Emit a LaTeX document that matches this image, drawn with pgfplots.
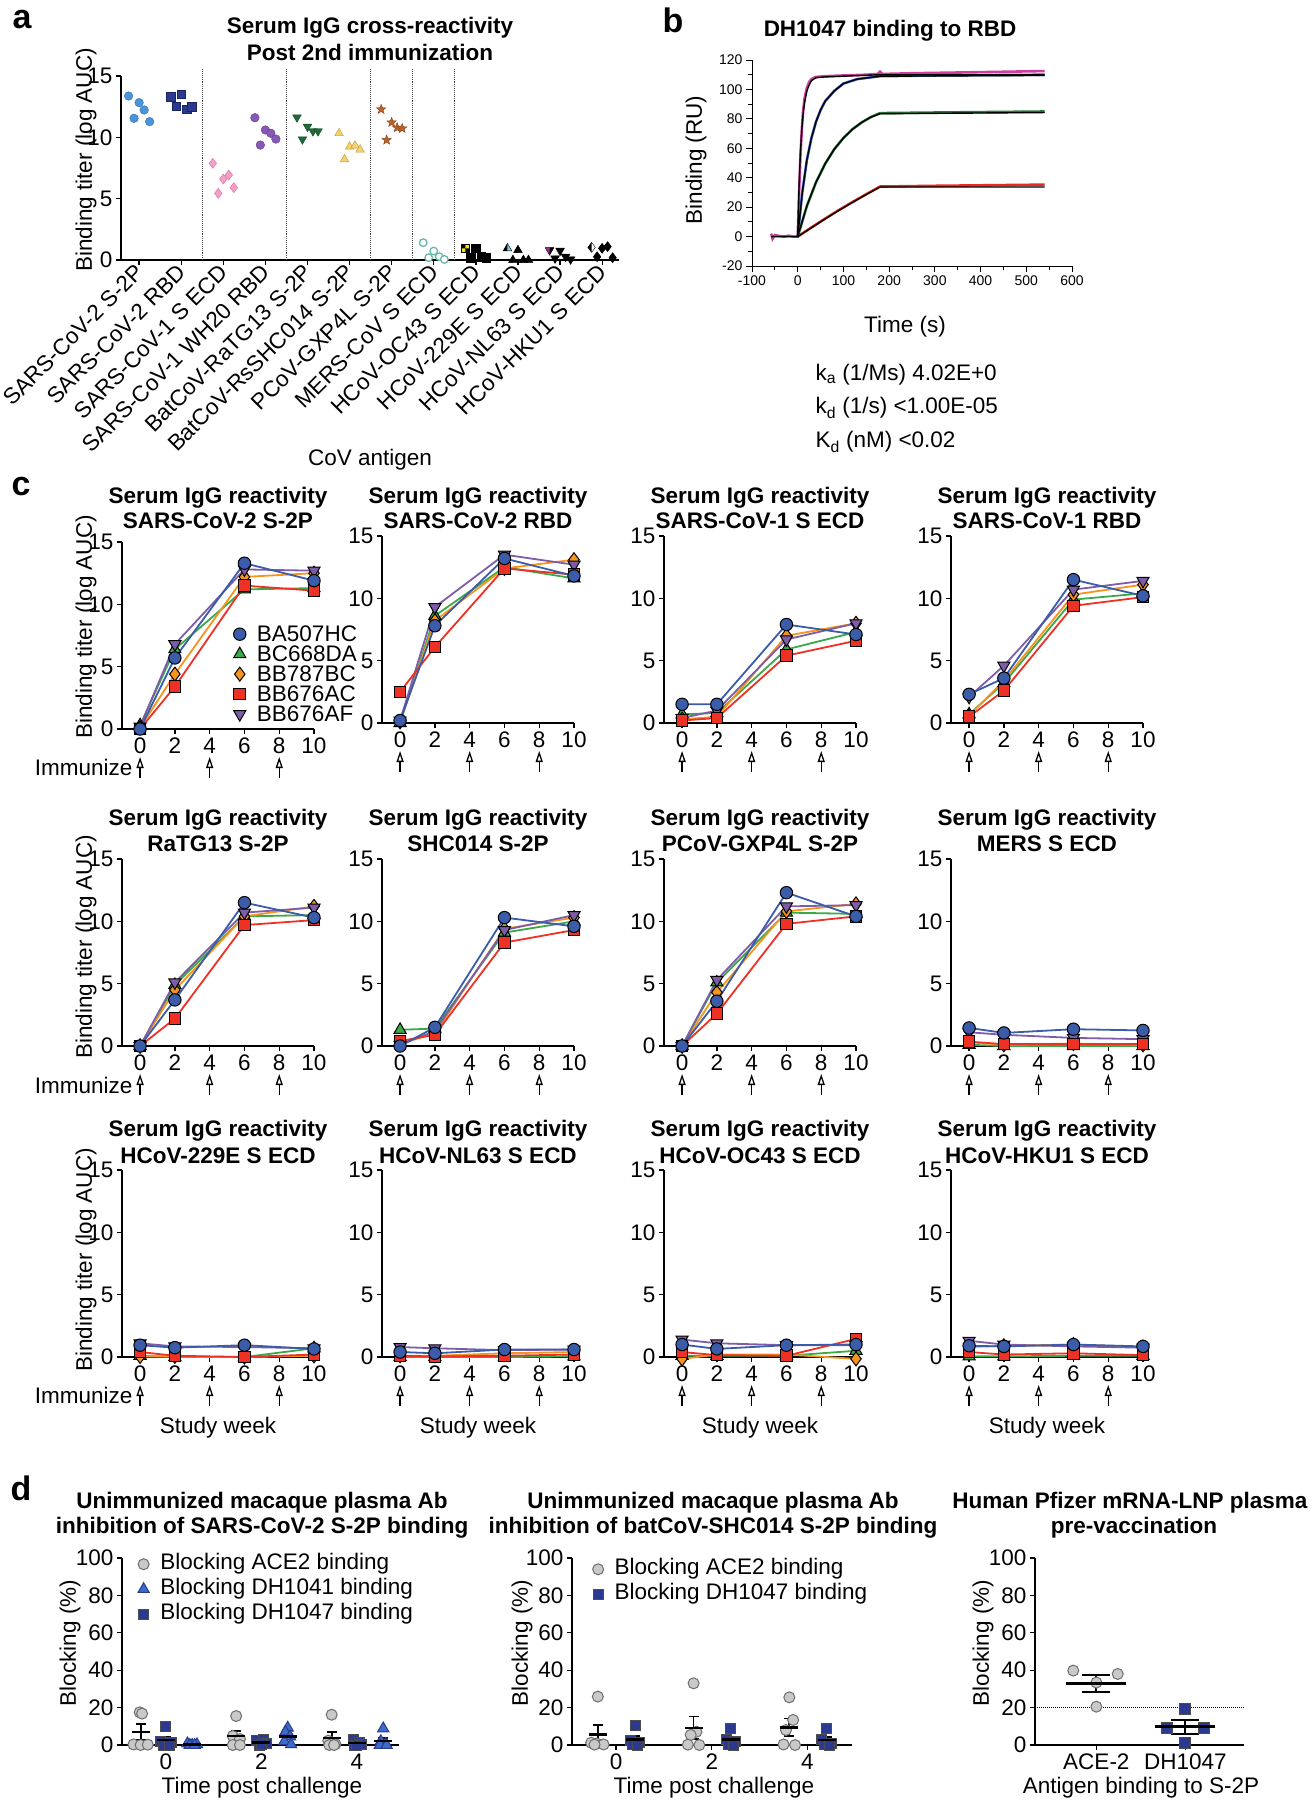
\documentclass[border=0pt]{standalone}
\usepackage{fontspec}
\setmainfont{Liberation Sans}
\usepackage{pgfplots}
\pgfplotsset{compat=1.18}
\usetikzlibrary{arrows.meta,plotmarks}

\newcommand\FT{\fontsize{22.5}{26}\selectfont}
\newcommand\FB{\fontsize{22.5}{26}\selectfont\bfseries}
\newcommand\FS{\fontsize{14}{16}\selectfont}
\newcommand\FL{\fontsize{34}{38}\selectfont\bfseries}

\definecolor{cBlue}{HTML}{3B5CA8}
\definecolor{cGreen}{HTML}{3AAA48}
\definecolor{cOrange}{HTML}{F7941D}
\definecolor{cRed}{HTML}{EE3124}
\definecolor{cPurple}{HTML}{7E5DA8}
\definecolor{dGray}{HTML}{C9C9C9}
\definecolor{dGrayE}{HTML}{6E6E6E}
\definecolor{dTri}{HTML}{3A6DC6}
\definecolor{dSq}{HTML}{2B3990}
\definecolor{bMag}{HTML}{CC3FA0}
\definecolor{bBlue}{HTML}{3D5CC8}
\definecolor{bGreen}{HTML}{2B7A3C}
\definecolor{bRed}{HTML}{E82A22}
\definecolor{a0f}{HTML}{4A94D8}\definecolor{a0d}{HTML}{2F6EAD}
\definecolor{a1f}{HTML}{2A3A8E}\definecolor{a1d}{HTML}{1A2560}
\definecolor{a2f}{HTML}{F4A0C8}\definecolor{a2d}{HTML}{D7699F}
\definecolor{a3f}{HTML}{8559B5}\definecolor{a3d}{HTML}{5E3C8C}
\definecolor{a4f}{HTML}{1E6B38}\definecolor{a4d}{HTML}{124524}
\definecolor{a5f}{HTML}{F5D26A}\definecolor{a5d}{HTML}{B89A3C}
\definecolor{a6f}{HTML}{B8632A}\definecolor{a6d}{HTML}{8A4418}
\definecolor{a7d}{HTML}{6BB7A8}
\definecolor{a8f}{HTML}{F2E311}
\definecolor{a9f}{HTML}{8AD0E5}
\definecolor{a10f}{HTML}{9E2F8F}

\pgfdeclareplotmark{fstar}{%
  \pgfpathmoveto{\pgfpointpolar{90}{\pgfplotmarksize}}%
  \pgfpathlineto{\pgfpointpolar{126}{0.42\pgfplotmarksize}}%
  \pgfpathlineto{\pgfpointpolar{162}{\pgfplotmarksize}}%
  \pgfpathlineto{\pgfpointpolar{198}{0.42\pgfplotmarksize}}%
  \pgfpathlineto{\pgfpointpolar{234}{\pgfplotmarksize}}%
  \pgfpathlineto{\pgfpointpolar{270}{0.42\pgfplotmarksize}}%
  \pgfpathlineto{\pgfpointpolar{306}{\pgfplotmarksize}}%
  \pgfpathlineto{\pgfpointpolar{342}{0.42\pgfplotmarksize}}%
  \pgfpathlineto{\pgfpointpolar{18}{\pgfplotmarksize}}%
  \pgfpathlineto{\pgfpointpolar{54}{0.42\pgfplotmarksize}}%
  \pgfpathclose\pgfusepathqfillstroke}
% checkered square (two black quadrants)
\pgfdeclareplotmark{chksq}{%
  \pgfpathrectangle{\pgfpoint{-\pgfplotmarksize}{-\pgfplotmarksize}}{\pgfpoint{2\pgfplotmarksize}{2\pgfplotmarksize}}%
  \pgfusepathqfillstroke
  \pgfsetfillcolor{black}%
  \pgfpathrectangle{\pgfpoint{-\pgfplotmarksize}{0pt}}{\pgfpoint{\pgfplotmarksize}{\pgfplotmarksize}}%
  \pgfpathrectangle{\pgfpoint{0pt}{-\pgfplotmarksize}}{\pgfpoint{\pgfplotmarksize}{\pgfplotmarksize}}%
  \pgfusepathqfill}
% triangle with black left half
\pgfdeclareplotmark{htri}{%
  \pgfpathmoveto{\pgfpoint{0pt}{\pgfplotmarksize}}%
  \pgfpathlineto{\pgfpointpolar{-30}{\pgfplotmarksize}}%
  \pgfpathlineto{\pgfpointpolar{-150}{\pgfplotmarksize}}%
  \pgfpathclose\pgfusepathqfillstroke
  \pgfsetfillcolor{black}%
  \pgfpathmoveto{\pgfpoint{0pt}{\pgfplotmarksize}}%
  \pgfpathlineto{\pgfpointpolar{-150}{\pgfplotmarksize}}%
  \pgfpathlineto{\pgfpoint{0pt}{-0.5\pgfplotmarksize}}%
  \pgfpathclose\pgfusepathqfill}
% diamond with black left half
\pgfdeclareplotmark{hdia}{%
  \pgfpathmoveto{\pgfpoint{0pt}{\pgfplotmarksize}}%
  \pgfpathlineto{\pgfpoint{0.75\pgfplotmarksize}{0pt}}%
  \pgfpathlineto{\pgfpoint{0pt}{-\pgfplotmarksize}}%
  \pgfpathlineto{\pgfpoint{-0.75\pgfplotmarksize}{0pt}}%
  \pgfpathclose\pgfusepathqfillstroke
  \pgfsetfillcolor{black}%
  \pgfpathmoveto{\pgfpoint{0pt}{\pgfplotmarksize}}%
  \pgfpathlineto{\pgfpoint{-0.75\pgfplotmarksize}{0pt}}%
  \pgfpathlineto{\pgfpoint{0pt}{-\pgfplotmarksize}}%
  \pgfpathclose\pgfusepathqfill}

\tikzset{imm/.style={-{Triangle[open,width=7pt,length=11pt]},line width=1.3pt}}

\pgfplotsset{
  base/.style={scale only axis, anchor=south west, axis lines=left,
    axis line style={-, line width=1.3pt, black}, clip=false,
    tick align=outside, major tick length=5pt, minor tick length=3pt,
    every tick/.style={black, line width=1.3pt},
    tick label style={font=\FT},
    /pgf/number format/assume math mode=true},
  cax/.style={base, width=192pt, height=187pt, xmin=-1.04, xmax=10, ymin=0, ymax=15,
    xtick={0,2,...,10}, ytick={0,5,10,15}},
  mB/.style={mark=*, mark size=6.2pt, mark options={solid, fill=cBlue, draw=black, line width=1pt}},
  mG/.style={mark=triangle*, mark size=7pt, mark options={solid, fill=cGreen, draw=black, line width=1pt}},
  mO/.style={mark=diamond*, mark size=7pt, mark options={solid, fill=cOrange, draw=black, line width=1pt}},
  mR/.style={mark=square*, mark size=5.8pt, mark options={solid, fill=cRed, draw=black, line width=1pt}},
  mP/.style={mark=triangle*, mark size=7pt, mark options={solid, fill=cPurple, draw=black, line width=1pt, rotate=180}},
  sB/.style={color=cBlue, line width=1.8pt, mB},
  sG/.style={color=cGreen, line width=1.8pt, mG},
  sO/.style={color=cOrange, line width=1.8pt, mO},
  sR/.style={color=cRed, line width=1.8pt, mR},
  sP/.style={color=cPurple, line width=1.8pt, mP},
  dax/.style={base, height=187pt, ymin=0, ymax=100, ytick={0,20,...,100}},
  dC/.style={only marks, mark=*, mark size=5.5pt, mark options={fill=dGray, draw=dGrayE, line width=1pt}},
  dT/.style={only marks, mark=triangle*, mark size=6.5pt, mark options={fill=dTri, draw=dSq, line width=1pt}},
  dS/.style={only marks, mark=square*, mark size=5pt, mark options={fill=dSq, draw=black!70, line width=1pt}},
  meanS/.style={black, only marks, mark=-, mark size=9pt, mark options={line width=2.5pt, black},
    error bars/y dir=both, error bars/y explicit, error bars/error bar style={line width=1.8pt, black},
    error bars/error mark options={rotate=90, mark size=5pt, line width=1.8pt, black}},
  meanL/.style={black, only marks, mark=-, mark size=30pt, mark options={line width=3pt, black},
    error bars/y dir=both, error bars/y explicit, error bars/error bar style={line width=2pt, black},
    error bars/error mark options={rotate=90, mark size=14pt, line width=2pt, black}},
  dleg/.style={legend style={draw=none, fill=none, font=\FT, anchor=north west, inner sep=0pt,
    row sep=4pt, nodes={inner ysep=0pt, text height=16pt, text depth=5pt},
    /tikz/every odd column/.append style={column sep=9pt}}, legend cell align=left},
  am/.style={only marks, mark options={line width=0.8pt}},
}

\newcommand\cpanel[7]{%
\begin{axis}[cax, at={(#1pt,-#2pt)}]
\addplot[sG] coordinates {#3};
\addplot[sO] coordinates {#4};
\addplot[sP] coordinates {#5};
\addplot[sR] coordinates {#6};
\addplot[sB] coordinates {#7};
\draw[imm] (axis cs:0,0) ++(0pt,-49pt) -- ++(0pt,21pt);
\draw[imm] (axis cs:4,0) ++(0pt,-49pt) -- ++(0pt,21pt);
\draw[imm] (axis cs:8,0) ++(0pt,-49pt) -- ++(0pt,21pt);
\end{axis}}

\begin{document}
\begin{tikzpicture}
\path[use as bounding box] (0,0) rectangle (1312pt,-1800pt);

% ---------------- panel labels
\node[font=\FL] at (22pt,-20pt) {a};
\node[font=\FL] at (673pt,-20pt) {b};
\node[font=\FL] at (21pt,-487pt) {c};
\node[font=\FL] at (21pt,-1488pt) {d};

% ---------------- panel a
\node[font=\FB, anchor=base] at (370pt,-33pt) {Serum IgG cross-reactivity};
\node[font=\FB, anchor=base] at (370pt,-60pt) {Post 2nd immunization};
\node[font=\FT, rotate=90] at (86pt,-160pt) {Binding titer (log AUC)};
\node[font=\FT] at (370pt,-460pt) {CoV antigen};
\begin{axis}[base, at={(121pt,-260pt)}, width=498pt, height=184pt,
  xmin=-0.43, xmax=11.4, ymin=0, ymax=15, ytick={0,5,10,15},
  xtick={0,...,11},
  xticklabels={SARS-CoV-2 S-2P, SARS-CoV-2 RBD, SARS-CoV-1 S ECD, SARS-CoV-1 WH20 RBD,
    BatCoV-RaTG13 S-2P, BatCoV-RsSHC014 S-2P, PCoV-GXP4L S-2P, MERS-CoV S ECD,
    HCoV-OC43 S ECD, HCoV-229E S ECD, HCoV-NL63 S ECD, HCoV-HKU1 S ECD},
  x tick label style={rotate=45, anchor=east, inner sep=2pt, yshift=-3pt}]
\addplot[black!70, densely dotted, line width=0.9pt] coordinates {(1.5,0)(1.5,15.6)};
\addplot[black!70, densely dotted, line width=0.9pt] coordinates {(3.5,0)(3.5,15.6)};
\addplot[black!70, densely dotted, line width=0.9pt] coordinates {(5.5,0)(5.5,15.6)};
\addplot[black!70, densely dotted, line width=0.9pt] coordinates {(6.5,0)(6.5,15.6)};
\addplot[black!70, densely dotted, line width=0.9pt] coordinates {(7.5,0)(7.5,15.6)};
\addplot[am, mark=*, mark size=4.3pt, mark options={fill=a0f, draw=a0d}] coordinates {(-0.25,13.37)(0,12.83)(0.12,12.23)(-0.12,11.55)(0.25,11.28)};
\addplot[am, mark=square*, mark size=4.2pt, mark options={fill=a1f, draw=a1d}] coordinates {(0.75,13.3)(1,13.5)(0.88,12.55)(1.13,12.28)(1.25,12.5)};
\addplot[am, mark=diamond*, mark size=5pt, mark options={fill=a2f, draw=a2d}] coordinates {(1.75,7.88)(2,6.6)(2.13,6.93)(1.88,5.43)(2.25,5.9)};
\addplot[am, mark=*, mark size=4.3pt, mark options={fill=a3f, draw=a3d}] coordinates {(2.75,11.6)(3,10.6)(3.13,10.33)(2.88,9.37)(3.25,9.86)};
\addplot[am, mark=triangle*, mark size=5pt, mark options={fill=a4f, draw=a4d, rotate=180}] coordinates {(3.75,11.63)(4,10.87)(4.13,10.5)(3.88,9.84)(4.25,10.5)};
\addplot[am, mark=triangle*, mark size=5pt, mark options={fill=a5f, draw=a5d}] coordinates {(4.75,10.33)(5,9.24)(5.13,9.32)(4.88,8.2)(5.25,9.0)};
\addplot[am, mark=fstar, mark size=5pt, mark options={fill=a6f, draw=a6d}] coordinates {(5.75,12.28)(6,11.22)(6.13,10.79)(5.88,9.78)(6.25,10.73)};
\addplot[am, mark=*, mark size=3.8pt, mark options={fill=white, draw=a7d, line width=1.3pt}] coordinates {(6.75,1.41)(7,0.73)(7.13,0.27)(6.88,0.19)(7.25,0.05)};
\addplot[am, mark=chksq, mark size=4.2pt, mark options={fill=a8f, draw=black}] coordinates {(7.75,0.95)(8,0.95)(8.13,0.27)(7.88,0.2)(8.25,0.2)};
\addplot[am, mark=htri, mark size=5pt, mark options={fill=a9f, draw=black}] coordinates {(8.75,0.95)(9,0.8)(9.13,0)(8.88,0)(9.25,0)};
\addplot[am, mark=htri, mark size=5pt, mark options={fill=a10f, draw=black, rotate=180}] coordinates {(9.75,0.8)(10,0.76)(10.13,0.27)(9.88,0.13)(10.25,0.05)};
\addplot[am, mark=hdia, mark size=5pt, mark options={fill=white, draw=black}] coordinates {(10.75,1.03)(11,0.95)(11.13,1.09)(10.88,0.27)(11.25,0.19)};
\end{axis}

% ---------------- panel b
\node[font=\FB, anchor=base] at (890pt,-36pt) {DH1047 binding to RBD};
\node[font=\FT, rotate=90] at (696pt,-160pt) {Binding (RU)};
\node[font=\FT] at (905pt,-327pt) {Time (s)};
\node[font=\FT, anchor=west] at (812pt,-375pt) {k\textsubscript{a} (1/Ms) 4.02E+0};
\node[font=\FT, anchor=west] at (812pt,-408pt) {k\textsubscript{d} (1/s) <1.00E-05};
\node[font=\FT, anchor=west] at (812pt,-442pt) {K\textsubscript{d} (nM) <0.02};
\begin{axis}[base, at={(752pt,-266pt)}, width=320pt, height=206pt,
  xmin=-100, xmax=600, ymin=-20, ymax=120,
  xtick={-100,0,...,600}, ytick={-20,0,...,120},
  minor x tick num=1, minor y tick num=1, tick label style={font=\FS},
  axis line style={-, line width=1pt, black}, every tick/.style={black, line width=1pt},
  major tick length=6pt, minor tick length=4pt]
\addplot[bMag, line width=2.6pt] coordinates {(-58,2)(-55,-1.5)(-50,1)(-42,0.5)(-30,0)(-20,0.6)(-10,0)(0,0)(3,30)(6,55)(9,73)(12,86)(15,94)(20,101)(25,105)(30,107)(40,108.5)(60,109)(100,109.5)(150,110)(175,110.5)(180,112)(185,110.5)(250,111)(350,111.5)(450,112)(540,112.5)};
\addplot[bBlue, line width=2.6pt] coordinates {(0,0)(10,30)(20,52)(30,67)(40,78)(50,86)(60,92)(80,99)(100,104)(130,107)(180,109)(300,109.5)(540,110)};
\addplot[bGreen, line width=2.6pt] coordinates {(0,0)(20,20.8)(40,36.9)(60,49.5)(80,59.4)(100,67)(120,73)(140,77.6)(160,81.2)(180,83.9)(300,84.3)(540,85)};
\addplot[bRed, line width=2.6pt] coordinates {(0,0)(30,6.2)(60,12.2)(90,18)(120,23.5)(150,28.8)(180,34)(300,34.5)(540,35.3)};
\addplot[black, line width=1.4pt] coordinates {(-58,0)(0,0)(3,35)(6,58)(9,73)(12,84)(15,91)(20,99)(25,103)(30,106)(40,108)(60,108.5)(180,110)(540,110)};
\addplot[black, line width=1.4pt] coordinates {(0,0)(10,30)(20,52)(30,67)(40,78)(50,86)(60,92)(80,99)(100,104)(130,107)(180,109)(540,109.5)};
\addplot[black, line width=1.4pt] coordinates {(0,0)(20,20.8)(40,36.9)(60,49.5)(80,59.4)(100,67)(120,73)(140,77.6)(160,81.2)(180,83.5)(540,84.3)};
\addplot[black, line width=1.4pt] coordinates {(0,0)(30,6)(60,12)(90,17.8)(120,23.3)(150,28.6)(180,33.7)(540,33.7)};
\end{axis}

% ---------------- panel c text
\foreach \cx/\ya/\yb/\t in {218/503/528/SARS-CoV-2 S-2P, 478/503/528/SARS-CoV-2 RBD, 760/503/528/SARS-CoV-1 S ECD, 1047/503/528/SARS-CoV-1 RBD,
  218/825/851/RaTG13 S-2P, 478/825/851/SHC014 S-2P, 760/825/851/PCoV-GXP4L S-2P, 1047/825/851/MERS S ECD,
  218/1136/1163/HCoV-229E S ECD, 478/1136/1163/HCoV-NL63 S ECD, 760/1136/1163/HCoV-OC43 S ECD, 1047/1136/1163/HCoV-HKU1 S ECD}{
  \node[font=\FB, anchor=base] at (\cx pt,-\ya pt) {Serum IgG reactivity};
  \node[font=\FB, anchor=base] at (\cx pt,-\yb pt) {\t};
}
\foreach \yl/\yi in {627/767, 947/1085, 1260/1395}{
  \node[font=\FT, rotate=90] at (86pt,-\yl pt) {Binding titer (log AUC)};
  \node[font=\FT, anchor=east] at (136pt,-\yi pt) {Immunize};
}
\foreach \cx in {218,478,760,1047}{\node[font=\FT] at (\cx pt,-1428pt) {Study week};}

% ---------------- panel c axes
\begin{axis}[cax, at={(122pt,-729pt)},
  legend style={draw=none, fill=none, font=\FT, at={(0.58,0.551)}, anchor=north west, inner sep=0pt,
    row sep=4pt, nodes={inner ysep=0pt, text height=15pt, text depth=1pt},
    /tikz/every odd column/.append style={column sep=9pt}}, legend cell align=left]
\addplot[sG, forget plot] coordinates {(0,0.3)(2,6.4)(6,11.2)(10,11.3)};
\addplot[sO, forget plot] coordinates {(0,0.1)(2,4.4)(6,12.2)(10,12.5)};
\addplot[sP, forget plot] coordinates {(0,0.2)(2,6.8)(6,12.8)(10,12.7)};
\addplot[sR, forget plot] coordinates {(0,0)(2,3.4)(6,11.5)(10,11.1)};
\addplot[sB, forget plot] coordinates {(0,0)(2,5.7)(6,13.3)(10,11.9)};
\addlegendimage{only marks, mB}\addlegendentry{BA507HC}
\addlegendimage{only marks, mG}\addlegendentry{BC668DA}
\addlegendimage{only marks, mO}\addlegendentry{BB787BC}
\addlegendimage{only marks, mR}\addlegendentry{BB676AC}
\addlegendimage{only marks, mP}\addlegendentry{BB676AF}
\draw[imm] (axis cs:0,0) ++(0pt,-49pt) -- ++(0pt,21pt);
\draw[imm] (axis cs:4,0) ++(0pt,-49pt) -- ++(0pt,21pt);
\draw[imm] (axis cs:8,0) ++(0pt,-49pt) -- ++(0pt,21pt);
\end{axis}
\cpanel{382}{723}{(0,0)(2,8.6)(6,12.5)(10,11.6)}{(0,0.1)(2,8.2)(6,12.4)(10,13.1)}{(0,0.2)(2,9.3)(6,13.5)(10,12.7)}{(0,2.5)(2,6.1)(6,12.4)(10,11.9)}{(0,0.2)(2,7.8)(6,13.2)(10,11.8)}
\cpanel{664}{723}{(0,0.7)(2,0.8)(6,5.9)(10,7.3)}{(0,0.3)(2,0.5)(6,7.0)(10,8.0)}{(0,0.4)(2,1.0)(6,6.7)(10,8.0)}{(0,0.2)(2,0.4)(6,5.4)(10,6.6)}{(0,1.5)(2,1.5)(6,7.9)(10,7.1)}
\cpanel{951}{723}{(0,0.7)(2,3.2)(6,9.9)(10,10.4)}{(0,0.6)(2,3.4)(6,10.3)(10,11.1)}{(0,2.1)(2,4.6)(6,10.7)(10,11.4)}{(0,0.5)(2,2.6)(6,9.4)(10,10.1)}{(0,2.3)(2,3.6)(6,11.5)(10,10.2)}
\cpanel{122}{1046}{(0,0)(2,4.9)(6,10.4)(10,10.5)}{(0,0)(2,4.5)(6,10.4)(10,11.2)}{(0,0)(2,5.1)(6,10.7)(10,11.1)}{(0,0)(2,2.2)(6,9.7)(10,10.1)}{(0,0)(2,3.7)(6,11.5)(10,10.3)}
\cpanel{382}{1046}{(0,1.3)(2,1.4)(6,9.1)(10,10.0)}{(0,0.2)(2,1.0)(6,9.4)(10,10.3)}{(0,0.1)(2,1.2)(6,9.3)(10,10.5)}{(0,0.4)(2,0.9)(6,8.3)(10,9.3)}{(0,0)(2,1.5)(6,10.3)(10,9.6)}
\cpanel{664}{1046}{(0,0)(2,5.1)(6,10.7)(10,10.6)}{(0,0)(2,4.3)(6,10.8)(10,11.4)}{(0,0)(2,5.3)(6,11.2)(10,11.3)}{(0,0)(2,2.6)(6,9.8)(10,10.4)}{(0,0)(2,3.6)(6,12.3)(10,10.4)}
\cpanel{951}{1046}{(0,0.1)(2,0)(6,0)(10,0)}{(0,0.3)(2,0.1)(6,0.2)(10,0.1)}{(0,1.1)(2,0.9)(6,0.65)(10,0.55)}{(0,0.35)(2,0.15)(6,0.15)(10,0.15)}{(0,1.45)(2,1.05)(6,1.35)(10,1.25)}
\cpanel{122}{1357}{(0,0.1)(2,0)(6,0)(10,0.7)}{(0,0.05)(2,0.05)(6,0)(10,0.1)}{(0,1.1)(2,0.85)(6,0.8)(10,0.7)}{(0,0.4)(2,0.1)(6,0)(10,0.2)}{(0,0.95)(2,0.75)(6,0.95)(10,0.65)}
\cpanel{382}{1357}{(0,0)(2,0)(6,0)(10,0.05)}{(0,0.1)(2,0.1)(6,0.3)(10,0.4)}{(0,0.8)(2,0.7)(6,0.55)(10,0.6)}{(0,0.1)(2,0.05)(6,0.1)(10,0.2)}{(0,0.4)(2,0.3)(6,0.6)(10,0.6)}
\cpanel{664}{1357}{(0,0.1)(2,0.1)(6,0.1)(10,0.5)}{(0,-0.15)(2,0.2)(6,0.2)(10,-0.15)}{(0,1.4)(2,1.1)(6,0.95)(10,0.95)}{(0,0.4)(2,0.15)(6,0.1)(10,1.45)}{(0,1.0)(2,0.65)(6,0.95)(10,1.0)}
\cpanel{951}{1357}{(0,0.05)(2,0.05)(6,0.1)(10,0.1)}{(0,0.8)(2,0.9)(6,1.0)(10,0.8)}{(0,1.3)(2,1.0)(6,0.85)(10,0.75)}{(0,0.4)(2,0.2)(6,0.3)(10,0.15)}{(0,0.9)(2,0.85)(6,1.0)(10,0.85)}

% ---------------- panel d text
\node[font=\FB, anchor=base] at (262pt,-1508pt) {Unimmunized macaque plasma Ab};
\node[font=\FB, anchor=base] at (262pt,-1533pt) {inhibition of SARS-CoV-2 S-2P binding};
\node[font=\FB, anchor=base] at (713pt,-1508pt) {Unimmunized macaque plasma Ab};
\node[font=\FB, anchor=base] at (713pt,-1533pt) {inhibition of batCoV-SHC014 S-2P binding};
\node[font=\FB, anchor=base] at (1130pt,-1508pt) {Human Pfizer mRNA-LNP plasma};
\node[font=\FB, anchor=base] at (1134pt,-1533pt) {pre-vaccination};
\node[font=\FT, rotate=90] at (70pt,-1643pt) {Blocking (\%)};
\node[font=\FT, rotate=90] at (522pt,-1643pt) {Blocking (\%)};
\node[font=\FT, rotate=90] at (983pt,-1643pt) {Blocking (\%)};
\node[font=\FT] at (262pt,-1788pt) {Time post challenge};
\node[font=\FT] at (714pt,-1788pt) {Time post challenge};
\node[font=\FT] at (1141pt,-1788pt) {Antigen binding to S-2P};

% ---------------- panel d axes
\begin{axis}[dax, dleg, at={(122pt,-1745pt)}, width=277pt, xmin=-0.92, xmax=4.88, xtick={0,2,4},
  legend style={at={(0.057,1.024)}}]
\addplot[dC] coordinates {(-0.55,17.5)(-0.5,16.8)(-0.68,0.3)(-0.53,0)(-0.38,0.2)(1.47,15.5)(1.4,4.8)(1.55,3.2)(1.4,0)(1.55,0)(3.47,16.2)(3.4,2.3)(3.55,0.5)(3.42,0)(3.52,0)};
\addlegendentry{Blocking ACE2 binding}
\addplot[dT] coordinates {(0.45,0.8)(0.55,0)(0.65,0.3)(0.5,0)(0.6,0)(2.55,9.2)(2.5,7.0)(2.6,4.5)(2.48,2.0)(2.62,0.3)(4.55,8.8)(4.5,2.0)(4.6,0.5)(4.48,0)(4.62,0)};
\addlegendentry{Blocking DH1041 binding}
\addplot[dS] coordinates {(0,9.8)(-0.12,2.0)(0.12,1.5)(-0.05,0)(0.08,0)(1.9,2.5)(2.05,3.2)(2.1,0.8)(1.95,0)(2.0,0.4)(3.92,2.8)(4.05,1.5)(4.1,0.5)(3.95,0)(4.0,0)};
\addlegendentry{Blocking DH1047 binding}
\addplot[forget plot, meanS] coordinates {(-0.53,6.96)+-(0,4.16)(0,2.66)+-(0,1.83)(0.55,0.22)+-(0,0.16)(1.47,4.7)+-(0,2.86)(2,1.38)+-(0,0.6)(2.55,4.6)+-(0,1.6)(3.47,3.8)+-(0,3.13)(4,0.96)+-(0,0.55)(4.55,2.26)+-(0,1.68)};
\end{axis}

\begin{axis}[dax, dleg, at={(572pt,-1745pt)}, width=280pt, xmin=-0.92, xmax=4.93, xtick={0,2,4},
  legend style={at={(0.073,0.997)}}]
\addplot[dC] coordinates {(-0.38,25.9)(-0.52,1.2)(-0.4,0.8)(-0.26,0.3)(-0.45,0.2)(1.62,33)(1.68,7.1)(1.56,5.4)(1.5,0.2)(1.74,0)(3.62,25.5)(3.7,13.4)(3.55,8)(3.5,0.3)(3.74,0)};
\addlegendentry{Blocking ACE2 binding}
\addplot[dS] coordinates {(0.4,10.7)(0.3,2.5)(0.5,1.2)(0.35,0.3)(0.45,0)(2.4,9.0)(2.3,3.2)(2.5,2.0)(2.35,0.5)(2.45,0)(4.4,9.0)(4.3,3.0)(4.5,1.0)(4.35,0.3)(4.45,0)};
\addlegendentry{Blocking DH1047 binding}
\addplot[forget plot, meanS] coordinates {(-0.38,5.68)+-(0,5.06)(0.4,2.94)+-(0,1.99)(1.62,9.14)+-(0,6.13)(2.4,2.94)+-(0,1.65)(3.62,9.44)+-(0,4.74)(4.4,2.66)+-(0,1.7)};
\end{axis}

\begin{axis}[dax, at={(1035pt,-1745pt)}, width=209pt, xmin=-0.69, xmax=1.66, xtick={0,1}, xticklabels={ACE-2,DH1047}]
\addplot[black, densely dotted, line width=1pt] coordinates {(-0.69,20)(1.66,20)};
\addplot[dC] coordinates {(-0.26,39.8)(0.24,38)(0,33.4)(0,20.5)};
\addplot[dS, mark size=5.5pt] coordinates {(1,19.1)(0.79,9.3)(1.21,9.3)(1,0.9)};
\addplot[meanL] coordinates {(0,32.9)+-(0,4.36)(1,9.65)+-(0,3.72)};
\end{axis}

\end{tikzpicture}
\end{document}
